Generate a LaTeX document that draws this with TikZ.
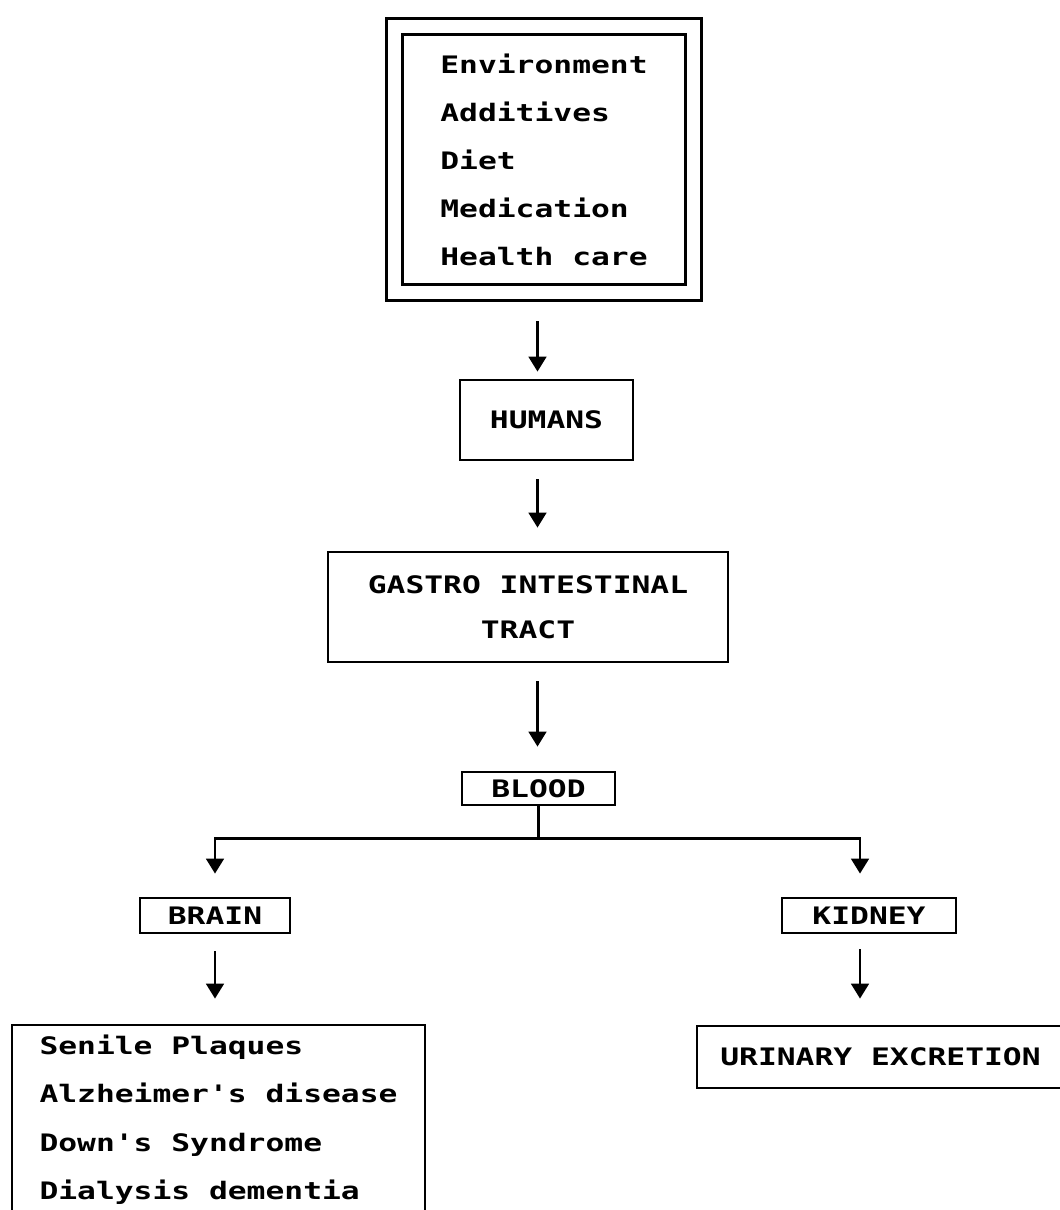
\documentclass[tikz,border=0pt]{standalone}
\usepackage{fontspec}
\newfontfamily\figfont{DejaVu Sans Mono}[FakeStretch=1.3]
\usepackage{tikz}
\usetikzlibrary{arrows.meta}

\begin{document}
\begin{tikzpicture}[x=0.02cm, y=-0.02cm, line width=1.6pt,
    every node/.style={font=\fontsize{13.7pt}{16pt}\selectfont\figfont\bfseries},
    box/.style={draw, inner sep=0pt},
    lines/.style={align=left, font=\fontsize{13.7pt}{#1}\selectfont\figfont\bfseries},
    arr/.style={-{Triangle[width=10pt, length=8.5pt]}}]
  \useasboundingbox (0,0) rectangle (1060,1210);
  \clip (0,0) rectangle (1060,1210);
  \coordinate (axis) at (537.5,0);
  \coordinate (kaxis) at (860,0);
  \node[box, double, double distance=7.9pt, minimum width=5.98cm, minimum height=5.32cm,
        lines=27.35pt] (env) at (544,159.5)
    {Environment\\Additives\\Diet\\Medication\\Health care};
  \node[box, minimum width=3.46cm, minimum height=1.6cm] (humans) at (546.5,420) {HUMANS};
  \node[box, minimum width=8cm, minimum height=2.2cm, lines=25.5pt, align=center]
    (git) at (528,607) {GASTRO INTESTINAL\\TRACT};
  \node[box, minimum width=3.06cm, minimum height=0.66cm] (blood) at (538.5,788.5) {BLOOD};
  \node[box, minimum width=3cm, minimum height=0.7cm] (brain) at (215,915.5) {BRAIN};
  \node[box, minimum width=3.48cm, minimum height=0.7cm] (kidney) at (869,915.5) {KIDNEY};
  \node[box, minimum width=8.26cm, minimum height=3.78cm, lines=27.6pt] (plaques) at (218.5,1119.5)
    {Senile Plaques\\Alzheimer's disease\\Down's Syndrome\\Dialysis dementia};
  \node[box, minimum width=7.34cm, minimum height=1.24cm] (urine) at (880.5,1057) {URINARY EXCRETION};

  \draw[arr, shorten <=0.55cm, shorten >=0.14cm] (env.south -| axis) -- (humans.north -| axis);
  \draw[arr, shorten <=0.36cm, shorten >=0.46cm] (humans.south -| axis) -- (git.north -| axis);
  \draw[arr, shorten <=0.36cm, shorten >=0.48cm] (git.south -| axis) -- (blood.north -| axis);
  \draw (blood.south) -- ++(0,32) coordinate (split);
  \draw[arr, shorten >=0.46cm] (split) -| (brain.north);
  \draw[arr, shorten >=0.46cm] (split) -| (kidney.north -| kaxis);
  \draw[arr, shorten <=0.34cm, shorten >=0.5cm] (brain.south) -- (plaques.north -| brain.south);
  \draw[arr, shorten <=0.3cm, shorten >=0.52cm] (kidney.south -| kaxis) -- (urine.north -| kaxis);
\end{tikzpicture}
\end{document}
